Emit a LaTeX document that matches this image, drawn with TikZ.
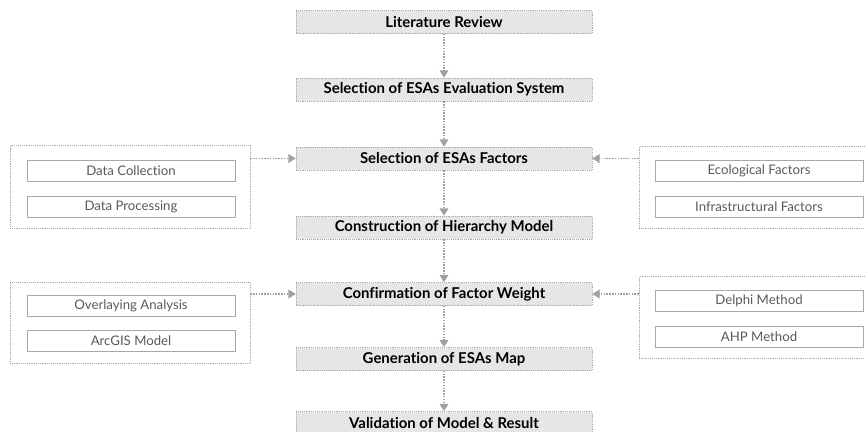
\documentclass[tikz,border=0pt]{standalone}
\usepackage{fontspec}
\setmainfont{Lato}[Ligatures=NoCommon]
\usetikzlibrary{arrows.meta}
\definecolor{boxfill}{HTML}{E6E6E6}
\definecolor{boxline}{HTML}{A8A8A8}
\definecolor{flowgray}{HTML}{A0A0A0}
\definecolor{subtext}{HTML}{5A5A5A}
\tikzset{
  stepbox/.style={draw=boxline, densely dotted, fill=boxfill, minimum width=222pt, minimum height=17.25pt, inner sep=0pt, font=\fontsize{11.2}{13}\selectfont\bfseries},
  groupbox/.style={draw=boxline, densely dotted, fill=white, inner sep=0pt},
  itembox/.style={draw=boxline, solid, fill=white, minimum width=156pt, minimum height=15.75pt, inner sep=0pt, text=subtext, font=\fontsize{9.9}{12}\selectfont},
  flow/.style={draw=flowgray, line width=1.1pt, densely dotted, -{Triangle[width=6.5pt,length=5.5pt,fill=flowgray]}}
}
\begin{document}
\begin{tikzpicture}[x=0.75pt,y=-0.75pt]
\useasboundingbox (0,0) rectangle (865,432);
\clip (0,0) rectangle (865,432);
% main steps
\node[stepbox] (review) at (444,22) {Literature Review};
\node[stepbox] (system) at (444,89.5) {Selection of ESAs Evaluation System};
\node[stepbox] (factors) at (444,158.5) {Selection of ESAs Factors};
\node[stepbox] (hierarchy) at (444,227.5) {Construction of Hierarchy Model};
\node[stepbox] (weight) at (444,294) {Confirmation of Factor Weight};
\node[stepbox] (map) at (444,359) {Generation of ESAs Map};
\node[stepbox] (valid) at (444,423) {Validation of Model \& Result};
\foreach \a/\b in {review/system,system/factors,factors/hierarchy,hierarchy/weight,weight/map,map/valid}
  \draw[flow] (\a) -- (\b);
% side groups
\node[groupbox, minimum width=180pt, minimum height=62.25pt] (dataG) at (130,186.5) {};
\node[itembox] (collect) at (131,171) {Data Collection};
\node[itembox] (process) at (131,206.5) {Data Processing};
\node[groupbox, minimum width=186pt, minimum height=61.5pt] (factorG) at (763,187) {};
\node[itembox] (eco) at (759,171) {Ecological Factors};
\node[itembox] (infra) at (759,206.5) {Infrastructural Factors};
\node[groupbox, minimum width=180pt, minimum height=60.75pt] (toolG) at (130,322.5) {};
\node[itembox] (overlay) at (131,306) {Overlaying Analysis};
\node[itembox] (arcgis) at (131,341) {ArcGIS Model};
\node[groupbox, minimum width=186pt, minimum height=61.5pt] (methodG) at (763,317) {};
\node[itembox] (delphi) at (759,301) {Delphi Method};
\node[itembox] (ahp) at (759,336.5) {AHP Method};
\draw[flow] (factors.west -| dataG.east) -- (factors.west);
\draw[flow] (factors.east -| factorG.west) -- (factors.east);
\draw[flow] (weight.west -| toolG.east) -- (weight.west);
\draw[flow] (weight.east -| methodG.west) -- (weight.east);
\end{tikzpicture}
\end{document}
